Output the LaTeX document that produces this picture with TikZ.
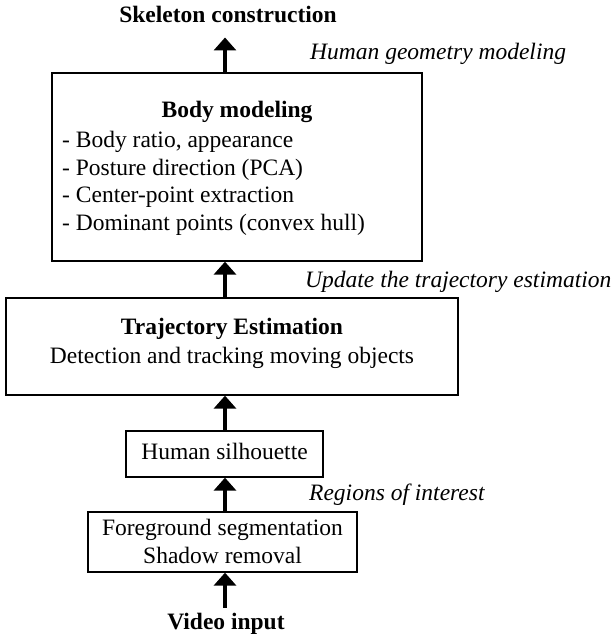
\documentclass[tikz,border=0pt]{standalone}
\usepackage{fontspec}
\setmainfont{Liberation Serif}
\usetikzlibrary{arrows.meta}
\begin{document}
\begin{tikzpicture}[x=1pt,y=-1pt,
  box/.style={draw, line width=1.3pt, inner sep=0pt},
  txt/.style={inner sep=0pt, font=\fontsize{23.5}{28}\selectfont},
  bold/.style={txt, font=\fontsize{23.5}{28}\selectfont\bfseries},
  ital/.style={txt, font=\fontsize{23.5}{28}\selectfont\itshape, anchor=base west},
  uparrow/.style={-{Triangle[width=22pt,length=13pt]}, line width=4pt}]
\useasboundingbox (0,0) rectangle (612,637);
\coordinate (ax) at (225,0);
% boxes
\node[box, minimum width=370pt, minimum height=188pt] (body) at (237,167) {};
\node[box, minimum width=452pt, minimum height=97pt] (traj) at (232,346.5) {};
\node[box, minimum width=197pt, minimum height=46pt] (sil) at (224.5,454) {};
\node[box, minimum width=269pt, minimum height=60pt] (fg) at (222.5,542) {};
% texts
\node[bold, anchor=base] (skel) at (228,22) {Skeleton construction};
\node[ital] (hgm) at (310,59) {Human geometry modeling};
\node[bold, anchor=base] (bodyt) at (237,117) {Body modeling};
\node[txt, anchor=base west] (b1) at (62,147) {- Body ratio, appearance};
\node[txt, anchor=base west] (b2) at (62,175) {- Posture direction (PCA)};
\node[txt, anchor=base west] (b3) at (62,202) {- Center-point extraction};
\node[txt, anchor=base west] (b4) at (62,230) {- Dominant points (convex hull)};
\node[ital] (upd) at (305,287) {Update the trajectory estimation};
\node[bold, anchor=base] (trajt) at (232,334) {Trajectory Estimation};
\node[txt, anchor=base] (trajd) at (232,363) {Detection and tracking moving objects};
\node[txt, anchor=base] (silt) at (224.5,459) {Human silhouette};
\node[ital] (roi) at (309,500) {Regions of interest};
\node[txt, anchor=base] (fg1) at (222.5,535) {Foreground segmentation};
\node[txt, anchor=base] (fg2) at (222.5,563) {Shadow removal};
\node[bold, anchor=base] (vid) at (226,629) {Video input};
% arrows
\draw[uparrow] (body.north -| ax) -- ([yshift=-15pt]skel.south -| ax);
\draw[uparrow] (traj.north -| ax) -- (body.south -| ax);
\draw[uparrow] (sil.north -| ax) -- (traj.south -| ax);
\draw[uparrow] (fg.north -| ax) -- (sil.south -| ax);
\draw[uparrow, shorten <=5pt] (vid.north -| ax) -- (fg.south -| ax);
\end{tikzpicture}
\end{document}
